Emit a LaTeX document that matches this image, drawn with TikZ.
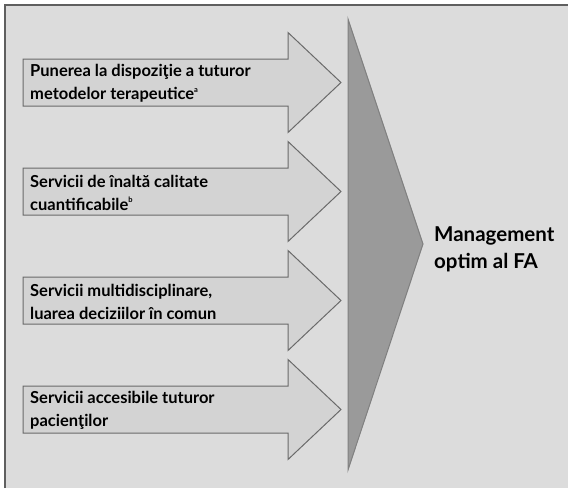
\documentclass[tikz,border=0pt]{standalone}
\usepackage{fontspec}
\setmainfont{Lato}
\usetikzlibrary{positioning}

\definecolor{panelgray}{HTML}{DCDCDC}
\definecolor{arrowgray}{HTML}{D3D3D3}
\definecolor{edgegray}{HTML}{6A6A6A}
\definecolor{wedgegray}{HTML}{9A9A9A}

\newcommand{\tinysup}[1]{\raisebox{0.9ex}{\fontsize{7.5}{8}\selectfont #1}}

\tikzset{
  panel/.style={fill=panelgray},
  frameline/.style={draw=edgegray!90!black, line width=1.6pt},
  arrowbody/.style={fill=arrowgray, draw=edgegray, line width=1pt, line join=miter},
  arrowtext/.style={anchor=west, align=left, inner sep=0pt,
    font=\fontsize{16.5}{23}\selectfont\bfseries},
  wedge/.style={fill=wedgegray, draw=edgegray!85, line width=1pt},
  goaltext/.style={anchor=west, align=left, inner sep=0pt,
    font=\fontsize{20.5}{27}\selectfont\bfseries}
}

\begin{document}
\begin{tikzpicture}[x=1pt,y=-1pt]
  \useasboundingbox (0,0) rectangle (568,488);
  % background panel
  \fill[panel] (5,5) rectangle (568,488);
  \draw[frameline] (5,488) -- (5,5) -- (568,5);

  % the four input arrows
  \foreach \yc/\txt [count=\i] in {
      82.5/{Punerea la dispoziţie a tuturor\\metodelor terapeutice\tinysup{a}},
      191.5/{Servicii de înaltă calitate\\cuantificabile\tinysup{b}},
      300.5/{Servicii multidisciplinare,\\luarea deciziilor în comun},
      409.5/{Servicii accesibile tuturor\\pacienţilor}} {
    \draw[arrowbody] (23,\yc-23.5) -- (288,\yc-23.5) -- (288,\yc-50)
      -- (341,\yc) -- (288,\yc+50) -- (288,\yc+23.5) -- (23,\yc+23.5) -- cycle;
    \node[arrowtext] (in\i) at (30,\yc+1) {\txt};
  }

  % wedge and outcome
  \draw[wedge] (348,19) -- (423,244) -- (348,470) -- cycle;
  \node[goaltext] (goal) at (434,249) {Management\\optim al FA};
\end{tikzpicture}
\end{document}
